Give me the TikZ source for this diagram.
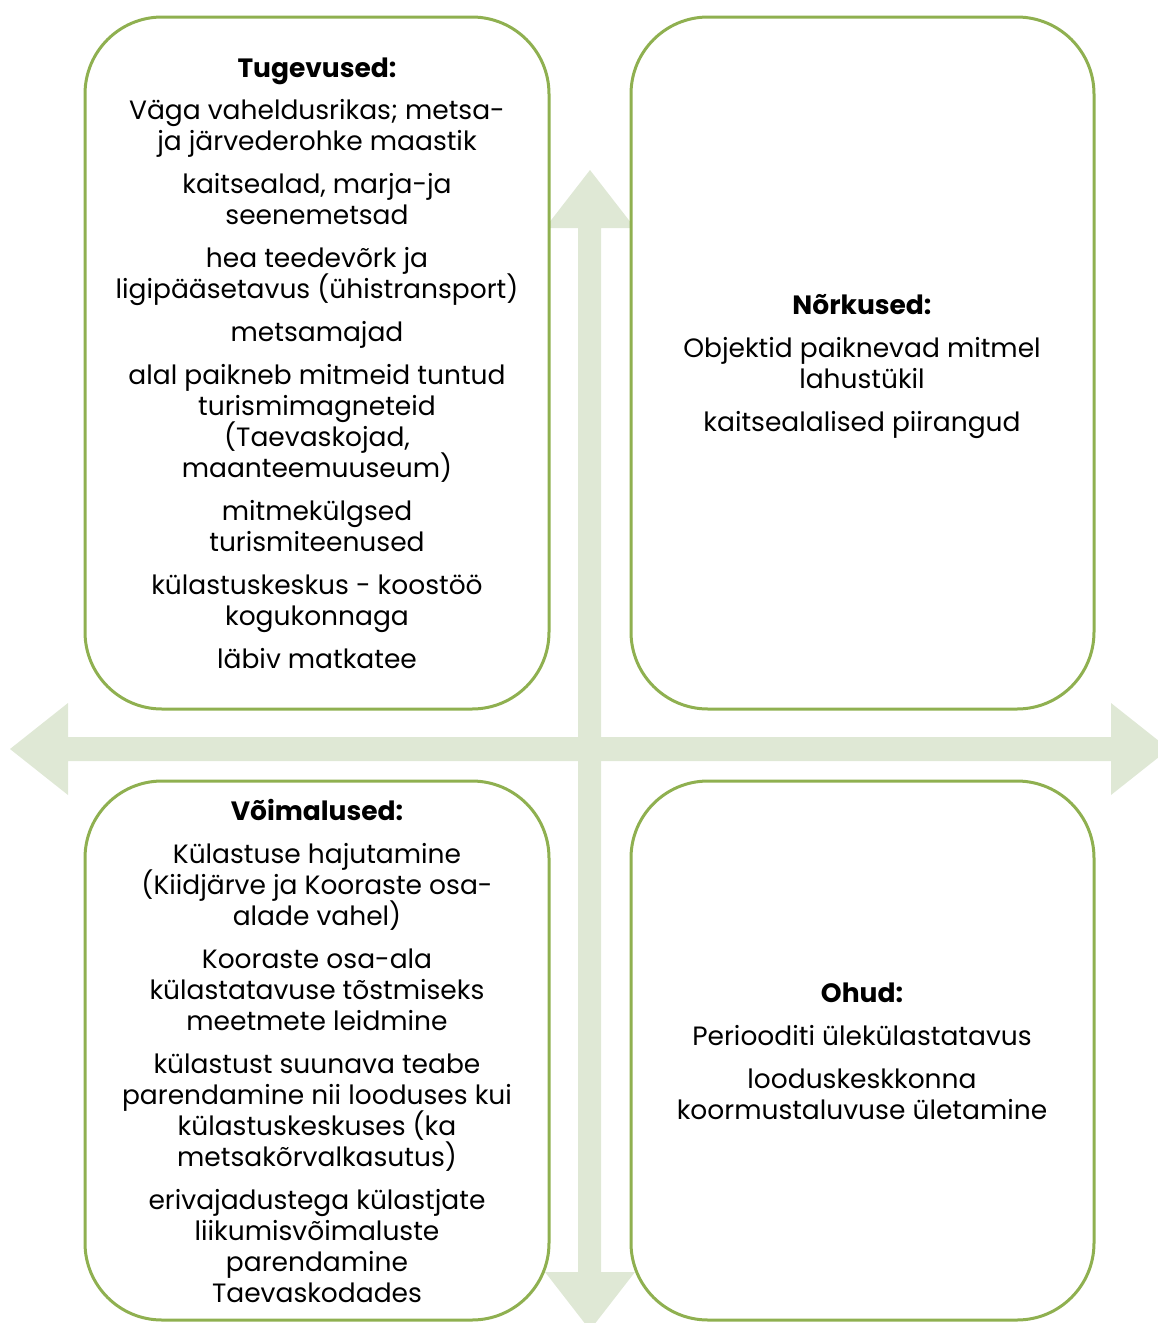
\documentclass[tikz,border=0pt]{standalone}
\usepackage{fontspec}
\setmainfont{Poppins}
\definecolor{boxgreen}{RGB}{143,176,80}
\definecolor{arrowgreen}{RGB}{223,232,213}
\newcommand\quadfont{\fontsize{26.5}{31}\selectfont\setlength{\lineskiplimit}{-100pt}\setlength{\lineskip}{0pt}}
\begin{document}
\begin{tikzpicture}[x=1pt,y=-1pt,
  quad/.style={draw=boxgreen,line width=3pt,fill=white,rounded corners=77pt},
  quadtext/.style={align=center,inner sep=0pt,anchor=north,font=\quadfont},
  arrowshape/.style={fill=arrowgreen,draw=none}]
\useasboundingbox (0,0) rectangle (1158,1323);
% horizontal double arrow
\fill[arrowshape] (10,749) -- (68,703) -- (68,737) -- (1111,737) -- (1111,703) -- (1169,749)
  -- (1111,795) -- (1111,761) -- (68,761) -- (68,795) -- cycle;
% vertical double arrow
\fill[arrowshape] (590,170) -- (635,228) -- (601,228) -- (601,1272) -- (635,1272) -- (590,1330)
  -- (545,1272) -- (578,1272) -- (578,228) -- (545,228) -- cycle;
% boxes
\draw[quad] (85,17) rectangle (549,709) node[pos=0,coordinate] (tl) {};
\draw[quad] (631,17) rectangle (1094,709) node[pos=0,coordinate] (tr) {};
\draw[quad] (85,781) rectangle (549,1320) node[pos=0,coordinate] (bl) {};
\draw[quad] (631,781) rectangle (1094,1320) node[pos=0,coordinate] (br) {};
% texts
\node[quadtext] (tlt) at (317,58) {\textbf{Tugevused:}\\[11pt]
Väga vaheldusrikas; metsa-\\ja järvederohke maastik\\[12pt]
kaitsealad, marja-ja\\seenemetsad\\[12pt]
hea teedevõrk ja\\ligipääsetavus (ühistransport)\\[12pt]
metsamajad\\[12pt]
alal paikneb mitmeid tuntud\\turismimagneteid\\(Taevaskojad,\\maanteemuuseum)\\[12pt]
mitmekülgsed\\turismiteenused\\[12pt]
külastuskeskus - koostöö\\kogukonnaga\\[12pt]
läbiv matkatee};
\node[quadtext] (trt) at (862,294) {\textbf{Nõrkused:}\\[12pt]
Objektid paiknevad mitmel\\lahustükil\\[12pt]
kaitsealalised piirangud};
\node[quadtext] (blt) at (317,799) {\textbf{Võimalused:}\\[12pt]
Külastuse hajutamine\\(Kiidjärve ja Kooraste osa-\\alade vahel)\\[12pt]
Kooraste osa-ala\\külastatavuse tõstmiseks\\meetmete leidmine\\[12pt]
külastust suunava teabe\\parendamine nii looduses kui\\külastuskeskuses (ka\\metsakõrvalkasutus)\\[12pt]
erivajadustega külastjate\\liikumisvõimaluste\\parendamine\\Taevaskodades};
\node[quadtext] (brt) at (862,983) {\textbf{Ohud:}\\[12pt]
Periooditi ülekülastatavus\\[12pt]
looduskeskkonna\\koormustaluvuse ületamine};
\end{tikzpicture}
\end{document}
